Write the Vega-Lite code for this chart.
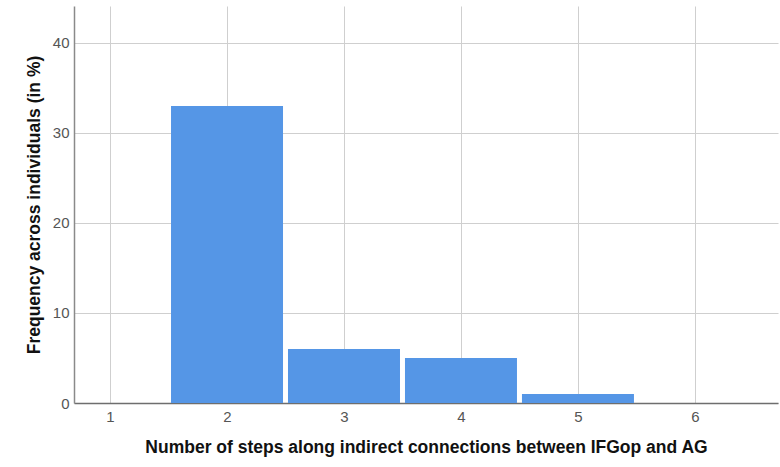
{
  "$schema": "https://vega.github.io/schema/vega-lite/v6.json",
  "width": 704,
  "height": 397,
  "autosize": {"type": "none"},
  "padding": {"left": 74, "top": 6, "right": 2, "bottom": 64},
  "background": "white",
  "config": {"view": {"stroke": null}, "font": "Liberation Sans"},
  "data": {"values": [
    {"steps": 1, "pct": 0},
    {"steps": 2, "pct": 33},
    {"steps": 3, "pct": 6},
    {"steps": 4, "pct": 5},
    {"steps": 5, "pct": 1},
    {"steps": 6, "pct": 0}
  ]},
  "mark": {"type": "bar", "width": 112, "color": "#5596E6", "strokeWidth": 0},
  "encoding": {
    "x": {
      "field": "steps", "type": "quantitative",
      "scale": {"domain": [0.692, 6.71], "nice": false, "zero": false, "padding": 0},
      "axis": {
        "values": [1, 2, 3, 4, 5, 6], "format": "d",
        "title": "Number of steps along indirect connections between IFGop and AG",
        "titleFont": "Liberation Sans", "titleFontSize": 17.5, "titleFontWeight": "bold", "titleColor": "#111111",
        "titlePadding": 14,
        "labelFont": "Liberation Sans", "labelFontSize": 15, "labelColor": "#555555", "labelPadding": 6,
        "ticks": false, "grid": true, "gridColor": "#cfcfcf", "gridWidth": 1,
        "domainColor": "#6e6e6e", "domainWidth": 1.5
      }
    },
    "y": {
      "field": "pct", "type": "quantitative",
      "scale": {"domain": [0, 44.1], "nice": false, "padding": 0},
      "axis": {
        "values": [0, 10, 20, 30, 40],
        "title": "Frequency across individuals (in %)",
        "titleFont": "Liberation Sans", "titleFontSize": 17.5, "titleFontWeight": "bold", "titleColor": "#111111",
        "titlePadding": 9,
        "labelFont": "Liberation Sans", "labelFontSize": 15, "labelColor": "#555555", "labelPadding": 5,
        "ticks": false, "grid": true, "gridColor": "#cfcfcf", "gridWidth": 1,
        "domainColor": "#8a8a8a", "domainWidth": 1.5
      }
    }
  }
}
